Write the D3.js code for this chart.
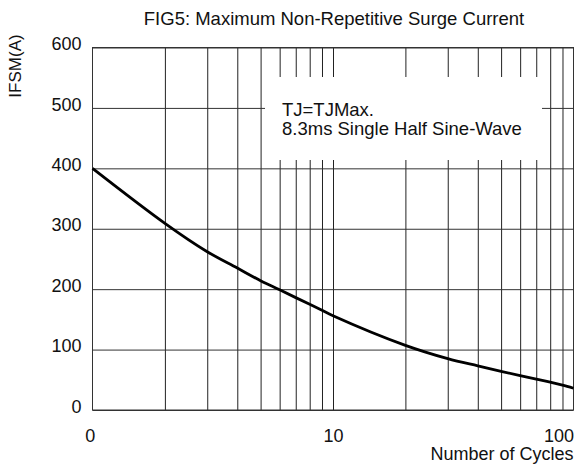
<!DOCTYPE html>
<html>
<head>
<meta charset="utf-8">
<script src="https://cdn.jsdelivr.net/npm/d3@7"></script>
<style>
  body { margin: 0; background: #fff; }
  text { font-family: "Liberation Sans", Arial, sans-serif; fill: #111; }
</style>
</head>
<body>
<script>
// Datos
const cycles = [1, 2, 3, 4, 5, 6, 7, 8, 9, 10, 20, 30, 40, 50, 60, 70, 80, 90, 100];
const ifsm = [400, 309, 262, 235, 214, 199, 186, 175, 165, 156, 107, 85, 73, 64, 57, 51, 46, 41, 36];
const gridX = [2, 3, 4, 5, 6, 7, 8, 9, 10, 20, 30, 40, 50, 60, 70, 80, 90];
const xTicks = [1, 10, 100];
const xTickLabels = ["0", "10", "100"];
const yTicks = [0, 100, 200, 300, 400, 500, 600];
const noteLines = ["TJ=TJMax.", "8.3ms Single Half Sine-Wave"];

const w = 581;
const h = 465;
const pLeft = 92.5, pRight = 573.5, pTop = 47.5, pBottom = 410;

const svg = d3.select("body")
    .append("svg")
    .attr("width", w)
    .attr("height", h);

// Escalas
const x = d3.scaleLog().domain([1, 100]).range([pLeft, pRight]);
const y = d3.scaleLinear().domain([0, 600]).range([pBottom, pTop]);

// Rejilla vertical
svg.append("g")
    .attr("transform", `translate(0, ${pBottom})`)
    .call(d3.axisBottom(x).tickValues(gridX).tickSize(-(pBottom - pTop)).tickFormat(""))
    .call(g => g.select(".domain").remove())
    .call(g => g.selectAll("line").attr("stroke", "#222"));

// Rejilla horizontal
svg.append("g")
    .attr("transform", `translate(${pLeft}, 0)`)
    .call(d3.axisLeft(y).tickValues(yTicks).tickSize(-(pRight - pLeft)).tickFormat(""))
    .call(g => g.select(".domain").remove())
    .call(g => g.selectAll("line").attr("stroke", "#333"));

// Marco
svg.append("rect")
    .attr("x", pLeft)
    .attr("y", pTop)
    .attr("width", pRight - pLeft)
    .attr("height", pBottom - pTop)
    .attr("fill", "none")
    .attr("stroke", "#333")
    .attr("stroke-width", 1);

// Caja de la nota
svg.append("rect")
    .attr("x", 265)
    .attr("y", 77)
    .attr("width", 277)
    .attr("height", 83)
    .attr("fill", "#fff");

svg.append("g")
    .selectAll("text")
    .data(noteLines)
    .enter()
    .append("text")
    .attr("x", 282)
    .attr("y", (d, i) => 116 + i * 19)
    .attr("font-size", "18.5px")
    .text(d => d);

// Curva
const line = d3.line()
    .x((d, i) => x(cycles[i]))
    .y(d => y(d))
    .curve(d3.curveCatmullRom.alpha(0.5));

svg.append("path")
    .datum(ifsm)
    .attr("d", line)
    .attr("fill", "none")
    .attr("stroke", "#000")
    .attr("stroke-width", 2.8);

// Eje X
const xAxis = svg.append("g")
    .attr("transform", `translate(0, ${pBottom})`)
    .call(d3.axisBottom(x).tickValues(xTicks).tickSize(0).tickPadding(19)
        .tickFormat((d, i) => xTickLabels[i]))
    .call(g => g.select(".domain").remove());
xAxis.selectAll("text")
    .attr("font-size", "18px")
    .attr("fill", "#111");
xAxis.selectAll("text").filter((d, i) => i === 0)
    .attr("dx", "-0.15em");
xAxis.selectAll("text").filter((d, i) => i === xTicks.length - 1)
    .attr("text-anchor", "end");

// Eje Y
const yAxis = svg.append("g")
    .attr("transform", `translate(${pLeft}, 0)`)
    .call(d3.axisLeft(y).tickValues(yTicks).tickSize(0).tickPadding(11))
    .call(g => g.select(".domain").remove());
yAxis.selectAll("text")
    .attr("font-size", "18px")
    .attr("dy", "0.12em")
    .attr("fill", "#111");
svg.selectAll("g").attr("font-family", "Liberation Sans, Arial, sans-serif");

// Título
svg.append("text")
    .attr("x", 334)
    .attr("y", 25)
    .attr("text-anchor", "middle")
    .attr("font-size", "18.5px")
    .text("FIG5: Maximum Non-Repetitive Surge Current");

// Título eje Y
svg.append("text")
    .attr("x", 21)
    .attr("y", 66)
    .attr("text-anchor", "middle")
    .attr("font-size", "17px")
    .attr("transform", "rotate(-90, 21, 66)")
    .text("IFSM(A)");

// Título eje X
svg.append("text")
    .attr("x", pRight)
    .attr("y", 460)
    .attr("text-anchor", "end")
    .attr("font-size", "18px")
    .text("Number of Cycles");
</script>
</body>
</html>
